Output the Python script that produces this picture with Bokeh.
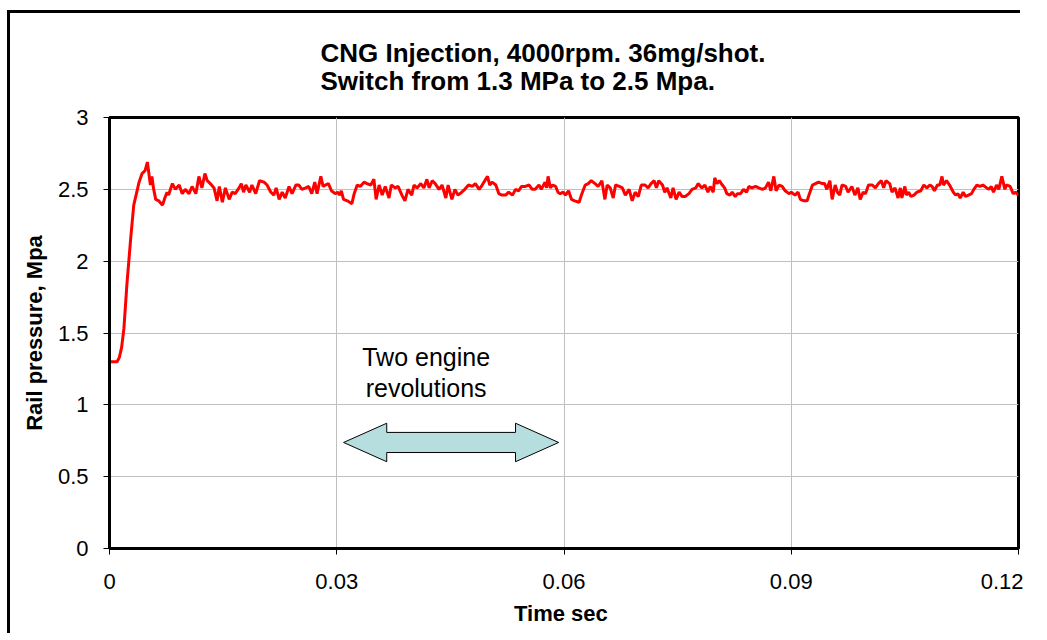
from bokeh.plotting import figure
from bokeh.models import Range1d, FixedTicker, Label
from bokeh.embed import file_html
from bokeh.resources import INLINE

title_lines = ["CNG Injection, 4000rpm. 36mg/shot.", "Switch from 1.3 MPa to 2.5 Mpa."]
x_label = "Time  sec"
y_label = "Rail pressure, Mpa"
note_lines = ["Two engine", "revolutions"]

x_ticks = [0, 0.03, 0.06, 0.09, 0.12]
x_tick_labels = ["0", "0.03", "0.06", "0.09", "0.12"]
y_ticks = [0, 0.5, 1, 1.5, 2, 2.5, 3]
y_tick_labels = ["0", "0.5", "1", "1.5", "2", "2.5", "3"]

time_s = [
    0.0000, 0.0010, 0.0013, 0.0016, 0.0019, 0.0023, 0.0028, 0.0032, 0.0036, 0.0039,
    0.0043, 0.0047, 0.0050, 0.0052, 0.0054, 0.0056, 0.0058, 0.0061, 0.0065, 0.0070,
    0.0073, 0.0076, 0.0078, 0.0083, 0.0087, 0.0092, 0.0096, 0.0100, 0.0105, 0.0109,
    0.0114, 0.0118, 0.0122, 0.0126, 0.0129, 0.0133, 0.0138, 0.0142, 0.0145, 0.0149,
    0.0153, 0.0158, 0.0162, 0.0166, 0.0171, 0.0174, 0.0177, 0.0180, 0.0185, 0.0188,
    0.0193, 0.0198, 0.0204, 0.0208, 0.0213, 0.0217, 0.0220, 0.0224, 0.0228, 0.0232,
    0.0237, 0.0241, 0.0246, 0.0250, 0.0254,
    0.0259, 0.0263, 0.0267, 0.0271, 0.0274, 0.0279, 0.0282, 0.0285, 0.0289, 0.0293,
    0.0298, 0.0301, 0.0304, 0.0306, 0.0309, 0.0314, 0.0320, 0.0323, 0.0327, 0.0331,
    0.0336, 0.0340, 0.0345, 0.0349, 0.0352, 0.0356, 0.0360, 0.0364, 0.0369, 0.0372,
    0.0377, 0.0381, 0.0386, 0.0390, 0.0394, 0.0399, 0.0402, 0.0406, 0.0411, 0.0415,
    0.0419, 0.0422, 0.0426, 0.0430, 0.0435, 0.0439, 0.0444, 0.0447, 0.0452, 0.0456,
    0.0460, 0.0465, 0.0469, 0.0474, 0.0479, 0.0483, 0.0488, 0.0492, 0.0499, 0.0502,
    0.0505, 0.0510, 0.0514, 0.0518,
    0.0523, 0.0527, 0.0532, 0.0536, 0.0540, 0.0544, 0.0549, 0.0554, 0.0558, 0.0562,
    0.0567, 0.0570, 0.0575, 0.0577, 0.0579, 0.0582, 0.0585, 0.0589, 0.0592, 0.0595,
    0.0599, 0.0602, 0.0606, 0.0610, 0.0614, 0.0620, 0.0623, 0.0628, 0.0632, 0.0636,
    0.0641, 0.0645, 0.0650, 0.0654, 0.0657, 0.0661, 0.0665, 0.0668, 0.0673, 0.0677,
    0.0681, 0.0686, 0.0690, 0.0694, 0.0698, 0.0702, 0.0707, 0.0711, 0.0715, 0.0719,
    0.0722, 0.0725, 0.0730, 0.0733, 0.0736, 0.0741, 0.0744, 0.0748, 0.0752, 0.0756,
    0.0760, 0.0765, 0.0769, 0.0774, 0.0777, 0.0782, 0.0786,
    0.0790, 0.0793, 0.0797, 0.0799, 0.0802, 0.0805, 0.0809, 0.0812, 0.0815, 0.0819,
    0.0822, 0.0826, 0.0829, 0.0833, 0.0837, 0.0841, 0.0844, 0.0848, 0.0853, 0.0857,
    0.0862, 0.0866, 0.0870, 0.0873, 0.0877, 0.0880, 0.0884, 0.0888, 0.0892, 0.0897,
    0.0900, 0.0905, 0.0909, 0.0912, 0.0917, 0.0921, 0.0924, 0.0928, 0.0932, 0.0936,
    0.0941, 0.0944, 0.0947, 0.0951, 0.0954, 0.0958, 0.0961, 0.0964, 0.0967, 0.0972,
    0.0975, 0.0980, 0.0984, 0.0988, 0.0991, 0.0995, 0.0998, 0.1002, 0.1007, 0.1011,
    0.1015, 0.1019, 0.1022, 0.1025, 0.1030, 0.1033, 0.1037, 0.1041, 0.1044,
    0.1046, 0.1050, 0.1052, 0.1055, 0.1058, 0.1062, 0.1066, 0.1071, 0.1075, 0.1079,
    0.1083, 0.1086, 0.1089, 0.1093, 0.1096, 0.1099, 0.1101, 0.1105, 0.1109, 0.1114,
    0.1117, 0.1120, 0.1123, 0.1127, 0.1130, 0.1134, 0.1138, 0.1141, 0.1145, 0.1149,
    0.1153, 0.1158, 0.1161, 0.1164, 0.1167, 0.1171, 0.1174, 0.1178, 0.1182, 0.1184,
    0.1189, 0.1193, 0.1196, 0.1200,
]

pressure_mpa = [
    1.30, 1.30, 1.33, 1.40, 1.53, 1.84, 2.16, 2.39, 2.48, 2.55,
    2.61, 2.63, 2.69, 2.61, 2.53, 2.59, 2.51, 2.43, 2.42, 2.39,
    2.44, 2.48, 2.46, 2.54, 2.50, 2.53, 2.47, 2.50, 2.47, 2.52,
    2.47, 2.59, 2.51, 2.61, 2.56, 2.54, 2.51, 2.42, 2.52, 2.41,
    2.51, 2.43, 2.48, 2.47, 2.51, 2.54, 2.48, 2.53, 2.48, 2.53,
    2.47, 2.56, 2.55, 2.53, 2.48, 2.46, 2.51, 2.43, 2.48, 2.44,
    2.52, 2.47, 2.53, 2.53, 2.50,
    2.51, 2.52, 2.47, 2.55, 2.47, 2.59, 2.52, 2.53, 2.54, 2.49,
    2.47, 2.48, 2.46, 2.49, 2.43, 2.42, 2.40, 2.47, 2.53, 2.52,
    2.55, 2.54, 2.53, 2.57, 2.43, 2.53, 2.46, 2.52, 2.44, 2.53,
    2.51, 2.52, 2.46, 2.42, 2.50, 2.46, 2.53, 2.51, 2.54, 2.51,
    2.57, 2.51, 2.56, 2.54, 2.50, 2.53, 2.44, 2.53, 2.43, 2.50,
    2.46, 2.48, 2.50, 2.53, 2.52, 2.54, 2.50, 2.53, 2.59, 2.53,
    2.55, 2.53, 2.47, 2.46,
    2.46, 2.48, 2.46, 2.50, 2.49, 2.52, 2.52, 2.53, 2.50, 2.50,
    2.53, 2.50, 2.55, 2.51, 2.59, 2.51, 2.53, 2.52, 2.48, 2.47,
    2.48, 2.46, 2.49, 2.43, 2.42, 2.41, 2.46, 2.53, 2.54, 2.56,
    2.54, 2.52, 2.56, 2.43, 2.53, 2.51, 2.44, 2.53, 2.52, 2.51,
    2.46, 2.50, 2.42, 2.48, 2.45, 2.53, 2.53, 2.51, 2.54, 2.56,
    2.51, 2.56, 2.53, 2.48, 2.51, 2.44, 2.51, 2.43, 2.48, 2.45,
    2.45, 2.47, 2.50, 2.51, 2.54, 2.51, 2.53,
    2.48, 2.52, 2.48, 2.58, 2.54, 2.56, 2.53, 2.51, 2.47, 2.46,
    2.48, 2.45, 2.47, 2.47, 2.50, 2.48, 2.52, 2.51, 2.52, 2.51,
    2.50, 2.51, 2.55, 2.49, 2.59, 2.49, 2.53, 2.52, 2.49, 2.47,
    2.48, 2.46, 2.48, 2.43, 2.42, 2.42, 2.47, 2.53, 2.54, 2.55,
    2.54, 2.54, 2.50, 2.56, 2.43, 2.53, 2.48, 2.46, 2.53, 2.52,
    2.48, 2.52, 2.46, 2.51, 2.43, 2.48, 2.47, 2.53, 2.53, 2.51,
    2.54, 2.56, 2.51, 2.56, 2.54, 2.48, 2.51, 2.44, 2.51,
    2.44, 2.52, 2.46, 2.48, 2.45, 2.46, 2.48, 2.49, 2.53, 2.51,
    2.53, 2.52, 2.49, 2.53, 2.53, 2.59, 2.53, 2.56, 2.53, 2.48,
    2.46, 2.47, 2.44, 2.48, 2.45, 2.46, 2.47, 2.50, 2.53, 2.52,
    2.53, 2.51, 2.50, 2.52, 2.48, 2.53, 2.50, 2.59, 2.50, 2.53,
    2.52, 2.47, 2.48, 2.46,
]

# double-headed arrow annotation (data units)
arrow_left, arrow_right, arrow_mid = 0.0309, 0.0593, 0.738
head_len, head_half, shaft_half = 0.0057, 0.134, 0.070

FONT = "Liberation Sans"

p = figure(
    frame_width=909, frame_height=431,
    min_border_left=99, min_border_right=5, min_border_top=103, min_border_bottom=88,
    x_range=Range1d(0, 0.12), y_range=Range1d(0, 3),
    output_backend="svg", toolbar_location=None,
)
p.styles = {"margin-left": "10px", "margin-top": "13px",
            "box-shadow": "-3px -3px 0px 0px black"}
p.background_fill_color = "white"
p.border_fill_color = "white"
p.outline_line_color = "black"
p.outline_line_width = 3

p.title.text = "\n".join(title_lines)
p.title.align = "left"
p.title.offset = 211
p.title.vertical_align = "bottom"
p.title.standoff = 43
p.title.text_font = FONT
p.title.text_font_size = "26px"
p.title.text_font_style = "bold"
p.title.text_color = "black"
p.title.text_line_height = 0.95

for ax, ticks, labels in ((p.xaxis[0], x_ticks, x_tick_labels), (p.yaxis[0], y_ticks, y_tick_labels)):
    ax.ticker = FixedTicker(ticks=ticks)
    ax.major_label_overrides = {t: l for t, l in zip(ticks, labels)}
    ax.minor_tick_line_color = None
    ax.major_tick_in = 0
    ax.major_tick_out = 6
    ax.major_tick_line_color = "black"
    ax.major_tick_line_width = 1
    ax.axis_line_color = "black"
    ax.axis_line_width = 3
    ax.major_label_text_font = FONT
    ax.major_label_text_font_size = "22px"
    ax.major_label_text_color = "black"
    ax.axis_label_text_font = FONT
    ax.axis_label_text_font_size = "22px"
    ax.axis_label_text_font_style = "bold"
    ax.axis_label_text_color = "black"

p.xaxis.axis_label = x_label
p.yaxis.axis_label = y_label
p.xaxis.major_label_standoff = 19
p.yaxis.major_label_standoff = 15
p.xaxis.axis_label_standoff = 9
p.yaxis.axis_label_standoff = 8

p.xgrid.ticker = FixedTicker(ticks=x_ticks)
p.ygrid.ticker = FixedTicker(ticks=y_ticks)
p.grid.grid_line_color = "#C0C0C0"
p.grid.grid_line_width = 1

p.line(time_s, pressure_mpa, line_color="#FF0000", line_width=3)

ax_pts = [arrow_left, arrow_left + head_len, arrow_left + head_len, arrow_right - head_len,
          arrow_right - head_len, arrow_right, arrow_right - head_len, arrow_right - head_len,
          arrow_left + head_len, arrow_left + head_len]
ay_pts = [arrow_mid, arrow_mid + head_half, arrow_mid + shaft_half, arrow_mid + shaft_half,
          arrow_mid + head_half, arrow_mid, arrow_mid - head_half, arrow_mid - shaft_half,
          arrow_mid - shaft_half, arrow_mid - head_half]
p.patch(ax_pts, ay_pts, fill_color="#B7DEDF", line_color="black", line_width=1)

note_x = 0.0418
for txt, yy in zip(note_lines, [1.33, 1.116]):
    p.add_layout(Label(x=note_x, y=yy, text=txt, text_align="center", text_baseline="middle",
                       text_font=FONT, text_font_size="25px", text_color="black"))

open("out.html", "w").write(file_html(p, INLINE))
